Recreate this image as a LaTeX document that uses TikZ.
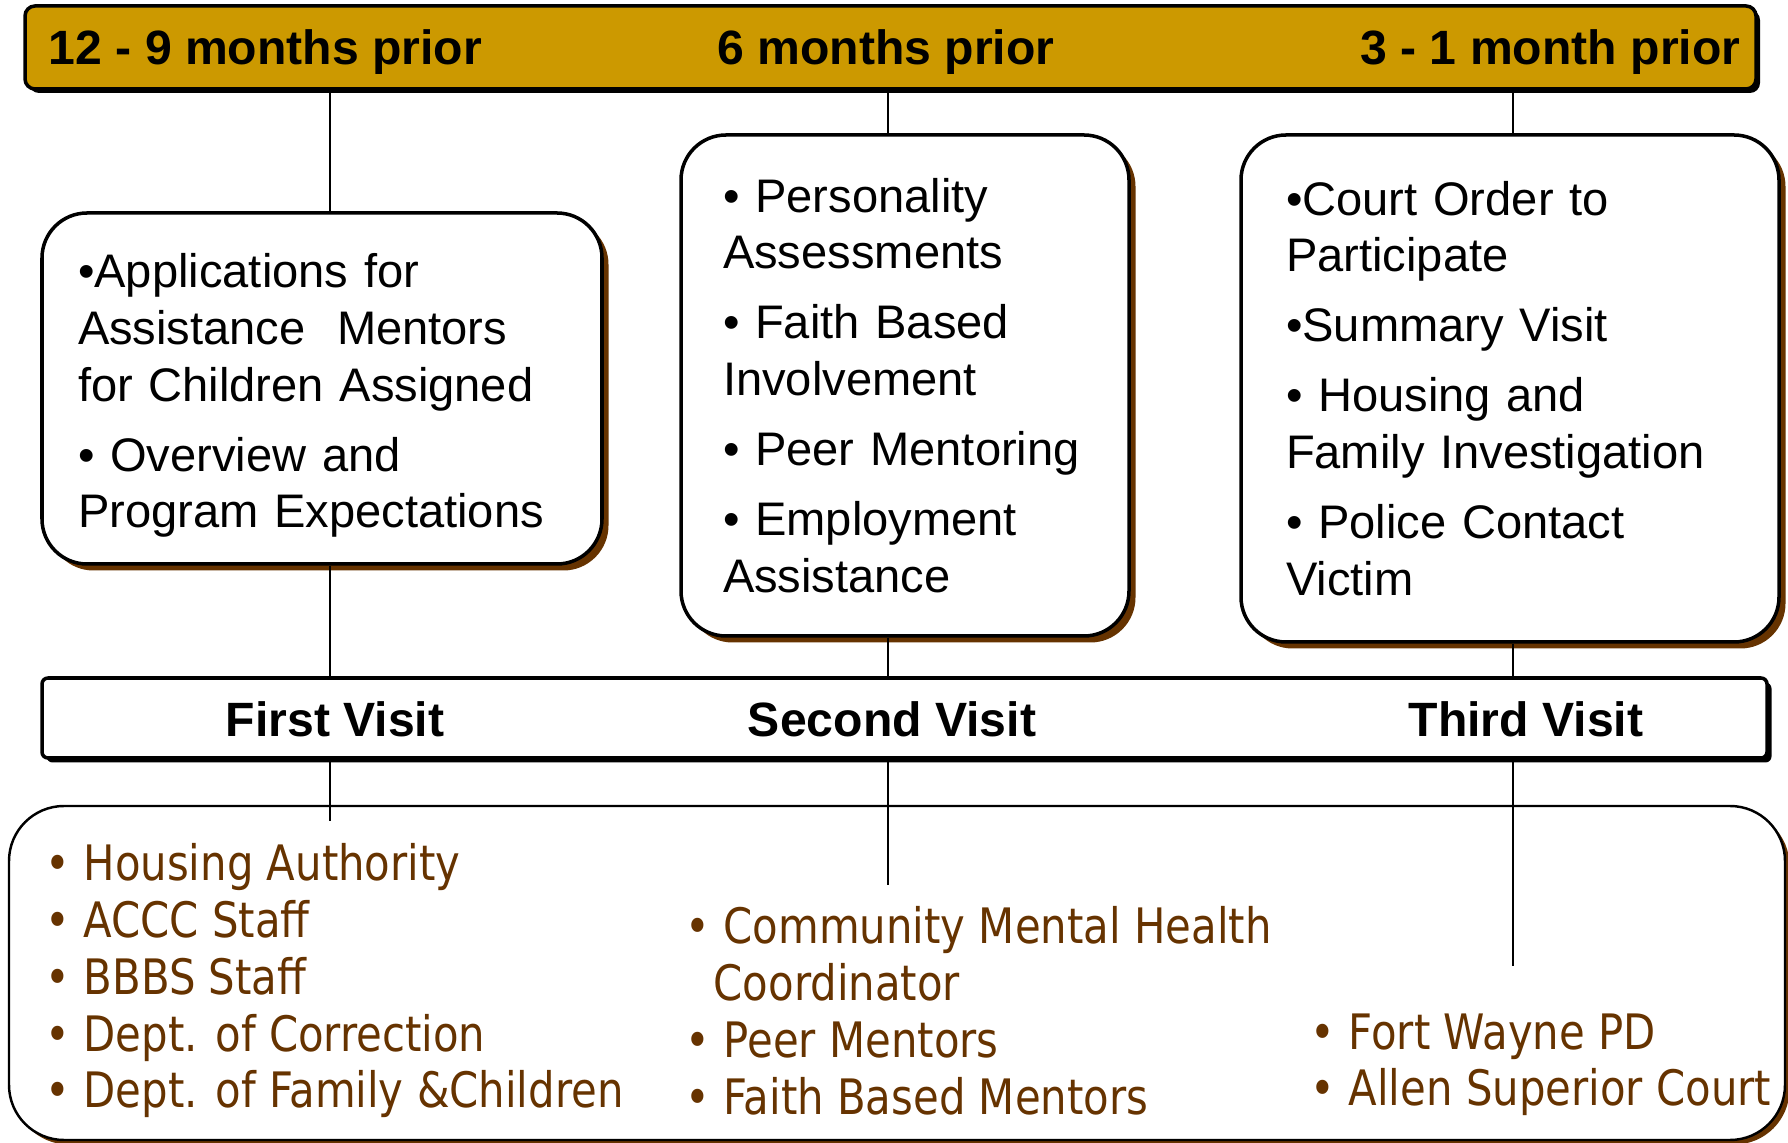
\documentclass[tikz,border=0pt]{standalone}
\usepackage{fontspec}
\setmainfont{Liberation Sans}
\newfontfamily\condsans[FakeStretch=0.856]{DejaVu Sans}
\usetikzlibrary{shadows}
\definecolor{barGold}{HTML}{CC9900}
\definecolor{shadeBrown}{HTML}{663300}
\tikzset{
  timebar/.style={draw,line width=1pt,fill=barGold,rounded corners=1mm,
    drop shadow={opacity=1,fill=black,shadow xshift=0.4mm,shadow yshift=-0.4mm}},
  bartext/.style={inner sep=0pt,font=\bfseries\fontsize{13.7}{16}\selectfont},
  stagebox/.style={draw,line width=1pt,fill=white,rounded corners=4.5mm,inner ysep=0pt,
    align=left,font=\fontsize{13.4}{16.2}\selectfont,
    drop shadow={opacity=1,fill=shadeBrown,shadow xshift=0.65mm,shadow yshift=-0.65mm}},
  visitbar/.style={draw,line width=1pt,fill=white,rounded corners=0.6mm,
    drop shadow={opacity=1,fill=black,shadow xshift=0.45mm,shadow yshift=-0.45mm}},
  partnerbox/.style={draw,line width=0.7pt,fill=white,rounded corners=5.5mm,
    drop shadow={opacity=1,fill=shadeBrown,shadow xshift=0.45mm,shadow yshift=-0.45mm}},
  partner/.style={text=shadeBrown,align=left,anchor=base west,inner sep=0pt,
    font=\condsans\fontsize{13.9}{16.2}\selectfont},
  link/.style={line width=0.6pt}
}
\begin{document}
\begin{tikzpicture}[x=0.1mm,y=-0.1mm]
\useasboundingbox (0,0) rectangle (1788,1143);
\node[timebar,minimum width=173.1mm,minimum height=8.3mm] (bar) at (890.5,47.5) {};
\node[bartext,anchor=base west] (early) at (48,65) {12 - 9 months prior};
\node[bartext,anchor=base] (middle) at (886,65) {6 months prior};
\node[bartext,anchor=base east] (late) at (1741,65) {3 - 1 month prior};

\node[stagebox,minimum width=56mm,minimum height=35.1mm,text width=48.8mm,inner xsep=3.6mm] (first) at (322,388.5)
  {\rule{0pt}{4.8mm}•Applications for\\ Assistance~~Mentors\\ for Children Assigned\\[3.7pt] • Overview and\\ Program Expectations};
\node[stagebox,minimum width=44.8mm,minimum height=50.1mm,text width=36.4mm,inner xsep=4.2mm] (second) at (905,385.5)
  {• Personality\\ Assessments\\[3.7pt] • Faith Based\\ Involvement\\[3.7pt] • Peer Mentoring\\[3.7pt] • Employment\\ Assistance};
\node[stagebox,minimum width=53.8mm,minimum height=50.7mm,text width=44.8mm,inner xsep=4.5mm] (third) at (1510,388.5)
  {•Court Order to\\ Participate\\[3.7pt] •Summary Visit\\[3.7pt] • Housing and\\ Family Investigation\\[3.7pt] • Police Contact\\ Victim};

\node[visitbar,minimum width=172.5mm,minimum height=8mm] (visits) at (904.5,718) {};
\node[bartext,anchor=base] (v1) at (335,737) {First Visit};
\node[bartext,anchor=base] (v2) at (892,737) {Second Visit};
\node[bartext,anchor=base] (v3) at (1526,737) {Third Visit};

\node[partnerbox,minimum width=177.6mm,minimum height=33.4mm] (partners) at (897,973) {};
\node[partner] (p1) at (45,1108) {• Housing Authority\\ • ACCC Staff\\ • BBBS Staff\\ • Dept. of Correction\\ • Dept. of Family \&Children};
\node[partner] (p2) at (685,1114) {• Community Mental Health\\ \hspace*{2.8mm}Coordinator\\ • Peer Mentors\\ • Faith Based Mentors};
\node[partner] (p3) at (1310,1106) {• Fort Wayne PD\\ • Allen Superior Court};

\coordinate (e1) at (330,821);
\coordinate (e2) at (888,885);
\coordinate (e3) at (1513,966);
\draw[link] (bar.south -| e1) -- (e1 |- first.north) (e1 |- first.south) -- (e1 |- visits.north) (e1 |- visits.south) -- (e1);
\draw[link] (bar.south -| e2) -- (e2 |- second.north) (e2 |- second.south) -- (e2 |- visits.north) (e2 |- visits.south) -- (e2);
\draw[link] (bar.south -| e3) -- (e3 |- third.north) (e3 |- third.south) -- (e3 |- visits.north) (e3 |- visits.south) -- (e3);
\end{tikzpicture}
\end{document}
